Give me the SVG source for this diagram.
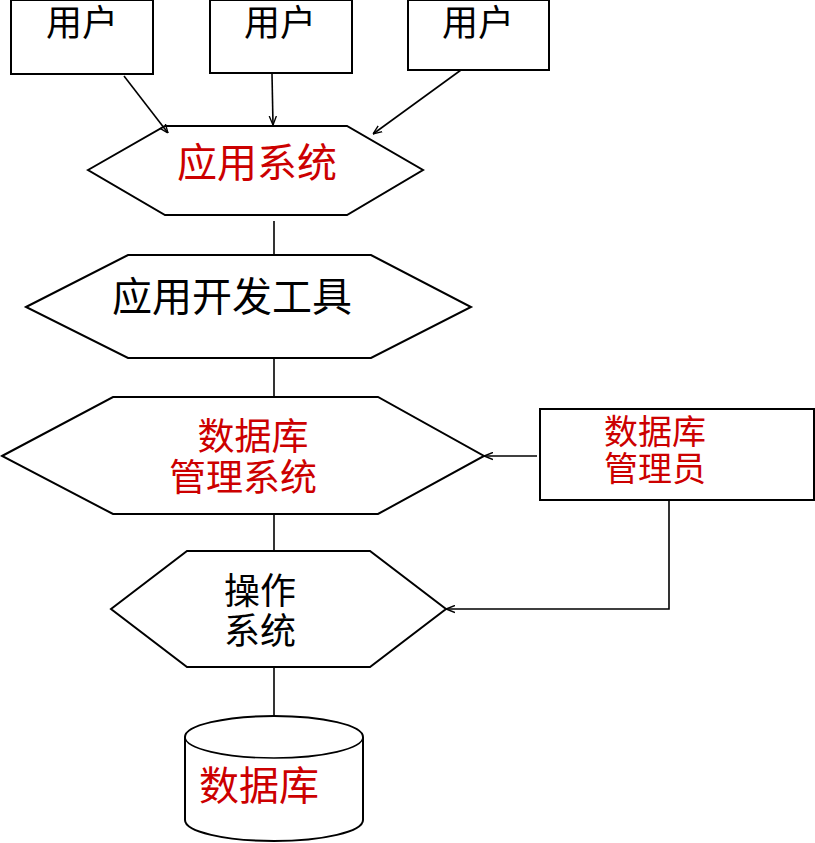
<svg xmlns="http://www.w3.org/2000/svg" width="815" height="843" viewBox="0 0 815 843">
<style>
.shape{fill:#fff;stroke:#000;stroke-width:2}
.line{fill:none;stroke:#000;stroke-width:1.6}
.t{font-family:"Liberation Serif","Noto Sans CJK SC",serif;dominant-baseline:central;text-anchor:middle}
.red{fill:#cc0000}
.blk{fill:#000}
</style>
<defs>
<marker id="arr" viewBox="0 0 10 10" refX="10" refY="5" markerWidth="9" markerHeight="9" markerUnits="userSpaceOnUse" orient="auto">
<path d="M0,1 L10,5 L0,9" fill="none" stroke="#000" stroke-width="1.5"/>
</marker>
</defs>
<rect width="815" height="843" fill="#fff"/>
<g id="user1">
<rect class="shape" x="11" y="0" width="142" height="74"/>
<text class="t blk" x="82" y="24" font-size="36">用户</text>
</g>
<g id="user2">
<rect class="shape" x="210" y="0" width="142" height="73"/>
<text class="t blk" x="280" y="24" font-size="36">用户</text>
</g>
<g id="user3">
<rect class="shape" x="408" y="0" width="141" height="70"/>
<text class="t blk" x="478" y="24" font-size="36">用户</text>
</g>
<g id="app-system">
<polygon class="shape" points="88,170 165,126 347,126 423,170 347,215 165,215"/>
<text class="t red" x="257" y="163" font-size="40">应用系统</text>
</g>
<g id="dev-tools">
<polygon class="shape" points="26,307 128,255 371,255 471,307 371,358 128,358"/>
<text class="t blk" x="232" y="297" font-size="40">应用开发工具</text>
</g>
<g id="dbms">
<polygon class="shape" points="2,456 113,397 378,397 484,456 378,514 113,514"/>
<text class="t red" x="253" y="437" font-size="37">数据库</text>
<text class="t red" x="243" y="478" font-size="37">管理系统</text>
</g>
<g id="dba">
<rect class="shape" x="540" y="409" width="274" height="91"/>
<text class="t red" x="655" y="432" font-size="34">数据库</text>
<text class="t red" x="655" y="469" font-size="34">管理员</text>
</g>
<g id="os">
<polygon class="shape" points="111,609 187,551 370,551 446,609 370,667 187,667"/>
<text class="t blk" x="260" y="592" font-size="36">操作</text>
<text class="t blk" x="260" y="632" font-size="36">系统</text>
</g>
<g id="database">
<path class="shape" d="M185,737 A89,21 0 0 1 363,737 L363,820 A89,21 0 0 1 185,820 Z"/>
<path class="line" d="M185,737 A89,21 0 0 0 363,737" stroke-width="2"/>
<text class="t red" x="259" y="786" font-size="40">数据库</text>
</g>
<g id="connectors">
<line class="line" x1="124" y1="76" x2="168" y2="133" marker-end="url(#arr)"/>
<line class="line" x1="272" y1="74" x2="273" y2="125" marker-end="url(#arr)"/>
<line class="line" x1="461" y1="70" x2="373" y2="134" marker-end="url(#arr)"/>
<line class="line" x1="274" y1="221" x2="274" y2="255"/>
<line class="line" x1="274" y1="358" x2="274" y2="397"/>
<line class="line" x1="274" y1="514" x2="274" y2="551"/>
<line class="line" x1="274" y1="667" x2="274" y2="716"/>
<line class="line" x1="537" y1="456" x2="484" y2="456" marker-end="url(#arr)"/>
<polyline class="line" points="669,500 669,609 446,609" marker-end="url(#arr)"/>
</g>
</svg>
